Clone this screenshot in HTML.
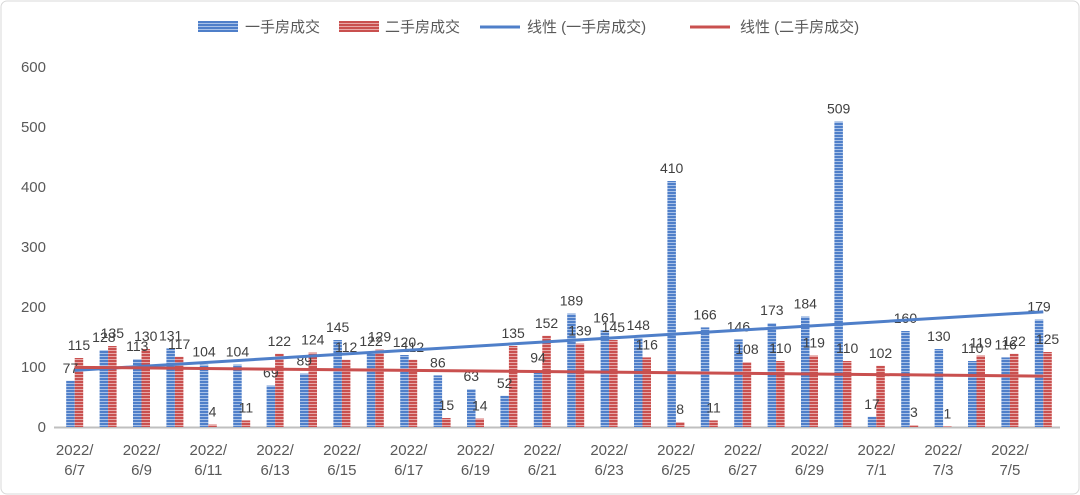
<!DOCTYPE html>
<html><head><meta charset="utf-8"><style>
html,body{margin:0;padding:0;background:#fff;}
svg{display:block;font-family:"Liberation Sans","Noto Sans CJK SC",sans-serif;}
</style></head><body>
<svg id="chart" width="1080" height="495" viewBox="0 0 1080 495" xmlns="http://www.w3.org/2000/svg">
<defs>
<pattern id="pb" width="4" height="3" patternUnits="userSpaceOnUse"><rect width="4" height="3" fill="#4f7fc9"/><rect y="2" width="4" height="1" fill="#a9c2e8"/></pattern>
<pattern id="pr" width="4" height="3" patternUnits="userSpaceOnUse"><rect width="4" height="3" fill="#c9504f"/><rect y="2" width="4" height="1" fill="#e8a9a8"/></pattern>
</defs>
<rect x="1" y="1" width="1078" height="493" rx="6" fill="#fff" stroke="#d9d9d9"/>
<g id="legend" font-size="15" fill="#595959">
<rect x="198" y="21" width="40" height="11" fill="url(#pb)"/>
<text x="245" y="32">一手房成交</text>
<rect x="339" y="21" width="40" height="11" fill="url(#pr)"/>
<text x="385" y="32">二手房成交</text>
<line x1="480" y1="27" x2="520" y2="27" stroke="#4f7fc9" stroke-width="3"/>
<text x="527" y="32">线性 (一手房成交)</text>
<line x1="690" y1="27" x2="730" y2="27" stroke="#c9504f" stroke-width="3"/>
<text x="740" y="32">线性 (二手房成交)</text>
</g>
<g id="plot"></g>
</svg>
<script>
const categories = ["6/7","6/8","6/9","6/10","6/11","6/12","6/13","6/14","6/15","6/16","6/17","6/18","6/19","6/20","6/21","6/22","6/23","6/24","6/25","6/26","6/27","6/28","6/29","6/30","7/1","7/2","7/3","7/4","7/5","7/6"];
const newHomes = [77,128,113,131,104,104,69,89,145,122,120,86,63,52,94,189,161,148,410,166,146,173,184,509,17,160,130,110,116,179];
const secondHomes = [115,135,130,117,4,11,122,124,112,129,112,15,14,135,152,139,145,116,8,11,108,110,119,110,102,3,1,119,122,125];
const yTicks = [0,100,200,300,400,500,600];

const NS="http://www.w3.org/2000/svg";
const g=document.getElementById('plot');
const L=58,R=1060,Y0=427,Y1=67,YMAX=600;
const step=(R-L)/categories.length;
const y=v=>Y0-(v/YMAX)*(Y0-Y1);
const xc=i=>L+step*(i+0.5);
function mk(tag,attrs){const e=document.createElementNS(NS,tag);for(const k in attrs)e.setAttribute(k,attrs[k]);g.appendChild(e);return e;}
yTicks.forEach(t=>{
  const e=mk('text',{x:46,y:y(t)+5,'text-anchor':'end','font-size':15,fill:'#595959'});
  e.textContent=t;
  
  
});
const ax=mk('line',{x1:L-4,y1:Y0+0.5,x2:R,y2:Y0+0.5,stroke:'#bfbfbf','stroke-width':2});


const bw=8.5;
categories.forEach((c,i)=>{
  const cx=xc(i);
  const b=mk('rect',{x:cx-bw,y:y(newHomes[i]),width:bw,height:Y0-y(newHomes[i]),fill:'url(#pb)'});
  
  
  const r=mk('rect',{x:cx,y:y(secondHomes[i]),width:bw,height:Y0-y(secondHomes[i]),fill:'url(#pr)'});
  
  
  const t1=mk('text',{x:cx-bw/2,y:y(newHomes[i])-8,'text-anchor':'middle','font-size':14,fill:'#404040'});
  t1.textContent=newHomes[i];
  
  
  const t2=mk('text',{x:cx+bw/2,y:y(secondHomes[i])-8,'text-anchor':'middle','font-size':14,fill:'#404040'});
  t2.textContent=secondHomes[i];
  
  
  if(i%2===0){
    const a=mk('text',{x:cx,y:455,'text-anchor':'middle','font-size':15,fill:'#595959'});
    a.textContent='2022/';
    
    
    const b2=mk('text',{x:cx,y:475,'text-anchor':'middle','font-size':15,fill:'#595959'});
    b2.textContent=c;
    
    
  }
});
function trend(arr){const n=arr.length;let sx=0,sy=0,sxy=0,sxx=0;arr.forEach((v,i)=>{sx+=i;sy+=v;sxy+=i*v;sxx+=i*i;});const m=(n*sxy-sx*sy)/(n*sxx-sx*sx);return [sy/n-m*sx/n,m];}
[[newHomes,'#4f7fc9','trend-line-new'],[secondHomes,'#c9504f','trend-line-second']].forEach(([arr,col,name])=>{
  const [b,m]=trend(arr);const n=arr.length-1;
  const l=mk('line',{x1:xc(0),y1:y(b),x2:xc(n),y2:y(b+m*n),stroke:col,'stroke-width':3});
  
  
});
</script>
</body></html>
